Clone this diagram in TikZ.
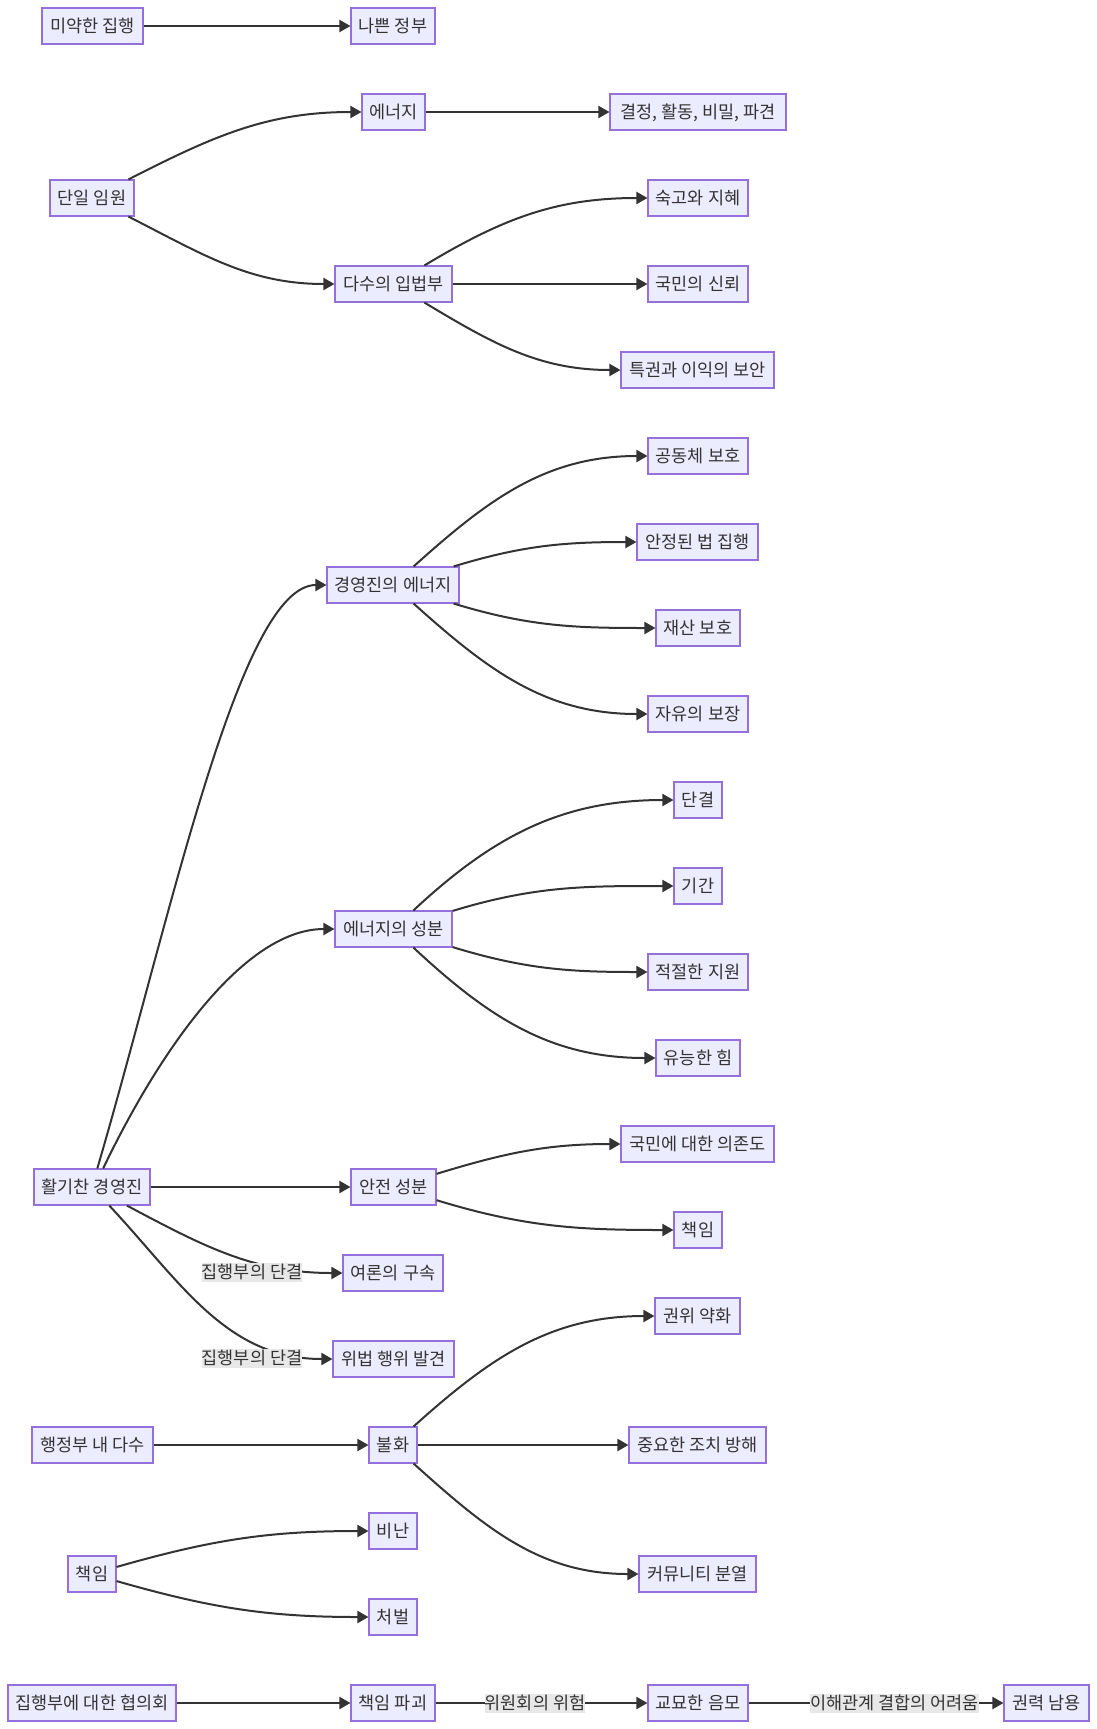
\documentclass[tikz,border=0pt]{standalone}
\usepackage{fontspec}
\usepackage{xcolor}
\usepackage{tikz}
\usetikzlibrary{
	arrows.meta,
	positioning
}
\newfontfamily\krfont{Noto Sans CJK KR}
\definecolor{NodeFill}{HTML}{ECECFF}
\definecolor{NodeLine}{HTML}{9370DB}
\definecolor{EdgeGray}{HTML}{333333}
\definecolor{LabelBg}{HTML}{E8E8E8}
\tikzset{
	nbox/.style={draw=NodeLine,fill=NodeFill,line width=1.1pt,text=EdgeGray,
		minimum width=#1pt,minimum height=36pt,inner xsep=4pt,inner ysep=0pt,
		text height=14pt,text depth=2pt,font=\krfont\fontsize{17.5pt}{20pt}\selectfont},
	elabel/.style={fill=LabelBg,text=EdgeGray,inner xsep=0pt,inner ysep=1.5pt,
		text height=14pt,text depth=2pt,font=\krfont\fontsize{17.5pt}{20pt}\selectfont},
	arr/.style={draw=EdgeGray,line width=2pt,-{Triangle[length=11pt,width=12pt]}}
}
\begin{document}
\begin{tikzpicture}[x=1pt,y=1pt]
		\useasboundingbox (0,0) rectangle (1097,-1729);
		\node[nbox=101] (weak) at (92.5,-26) {미약한 집행};
		\node[nbox=84] (badgov) at (393,-26) {나쁜 정부};
		\node[nbox=63] (energy) at (393.5,-112) {에너지};
		\node[nbox=176] (decide) at (698,-112) {결정, 활동, 비밀, 파견};
		\node[nbox=84] (single) at (92,-198) {단일 임원};
		\node[nbox=100] (wisdom) at (698,-198) {숙고와 지혜};
		\node[nbox=117] (legis) at (393.5,-284) {다수의 입법부};
		\node[nbox=100] (trust) at (698,-284) {국민의 신뢰};
		\node[nbox=153] (secur) at (697.5,-370) {특권과 이익의 보안};
		\node[nbox=100] (commun) at (698,-456) {공동체 보호};
		\node[nbox=121] (stablelaw) at (697.5,-542) {안정된 법 집행};
		\node[nbox=132] (exen) at (393,-585) {경영진의 에너지};
		\node[nbox=84] (property) at (698,-628) {재산 보호};
		\node[nbox=100] (liberty) at (698,-714) {자유의 보장};
		\node[nbox=48] (unity) at (698,-800) {단결};
		\node[nbox=48] (duration) at (698,-886) {기간};
		\node[nbox=117] (ingred) at (393.5,-929) {에너지의 성분};
		\node[nbox=100] (provision) at (698,-972) {적절한 지원};
		\node[nbox=84] (powers) at (698,-1058) {유능한 힘};
		\node[nbox=153] (depend) at (697.5,-1144) {국민에 대한 의존도};
		\node[nbox=116] (vigor) at (92,-1187) {활기찬 경영진};
		\node[nbox=85] (safety) at (393.5,-1187) {안전 성분};
		\node[nbox=48] (respR) at (698,-1230) {책임};
		\node[nbox=100] (opinion) at (393,-1273) {여론의 구속};
		\node[nbox=85] (authority) at (697.5,-1316) {권위 약화};
		\node[nbox=121] (detect) at (393.5,-1359) {위법 행위 발견};
		\node[nbox=121] (plural) at (92.5,-1445) {행정부 내 다수};
		\node[nbox=48] (discord) at (393,-1445) {불화};
		\node[nbox=137] (obstruct) at (697.5,-1445) {중요한 조치 방해};
		\node[nbox=48] (censure) at (393,-1531) {비난};
		\node[nbox=48] (respL) at (92,-1574) {책임};
		\node[nbox=117] (faction) at (697.5,-1574) {커뮤니티 분열};
		\node[nbox=48] (punish) at (393,-1617) {처벌};
		\node[nbox=168] (council) at (92,-1703) {집행부에 대한 협의회};
		\node[nbox=84] (destroy) at (393,-1703) {책임 파괴};
		\node[nbox=100] (intrigue) at (698,-1703) {교묘한 음모};
		\node[nbox=85] (abuse) at (1046.5,-1703) {권력 남용};
		\draw[arr] (weak) -- (badgov);
		\draw[arr] (energy) -- (decide);
		\draw[arr] (single.27) to[out=27,in=180] (energy.west);
		\draw[arr] (single.-27) to[out=-27,in=180] (legis.west);
		\draw[arr] (legis.31) to[out=31,in=180] (wisdom.west);
		\draw[arr] (legis) -- (trust);
		\draw[arr] (legis.-31) to[out=-31,in=180] (secur.west);
		\draw[arr] (vigor.74) .. controls +(73,249) and +(-87,0) .. (exen.west);
		\draw[arr] (vigor.59) .. controls +(57,119) and +(-90,0) .. (ingred.west);
		\draw[arr] (vigor) -- (safety);
		\draw[arr] (vigor.-28) to[out=-28,in=180] (opinion.west);
		\draw[arr] (vigor.-47) to[out=-47,in=180] (detect.west);
		\draw[arr] (exen.42) to[out=42,in=180] (commun.west);
		\draw[arr] (exen.17) to[out=17,in=180] (stablelaw.west);
		\draw[arr] (exen.-17) to[out=-17,in=180] (property.west);
		\draw[arr] (exen.-42) to[out=-42,in=180] (liberty.west);
		\draw[arr] (ingred.43) to[out=43,in=180] (unity.west);
		\draw[arr] (ingred.17) to[out=17,in=180] (duration.west);
		\draw[arr] (ingred.-17) to[out=-17,in=180] (provision.west);
		\draw[arr] (ingred.-43) to[out=-43,in=180] (powers.west);
		\draw[arr] (safety.17) to[out=17,in=180] (depend.west);
		\draw[arr] (safety.-17) to[out=-17,in=180] (respR.west);
		\draw[arr] (plural) -- (discord);
		\draw[arr] (discord.42) to[out=42,in=180] (authority.west);
		\draw[arr] (discord) -- (obstruct);
		\draw[arr] (discord.-42) to[out=-42,in=180] (faction.west);
		\draw[arr] (respL.16) to[out=16,in=180] (censure.west);
		\draw[arr] (respL.-16) to[out=-16,in=180] (punish.west);
		\draw[arr] (council) -- (destroy);
		\draw[arr] (destroy) -- (intrigue);
		\draw[arr] (intrigue) -- (abuse);
		\node[elabel] (unionA) at (252,-1272.5) {집행부의 단결};
		\node[elabel] (unionB) at (252,-1358) {집행부의 단결};
		\node[elabel] (danger) at (535,-1703) {위원회의 위험};
		\node[elabel] (hardness) at (894.5,-1703) {이해관계 결합의 어려움};
	\end{tikzpicture}
\end{document}
